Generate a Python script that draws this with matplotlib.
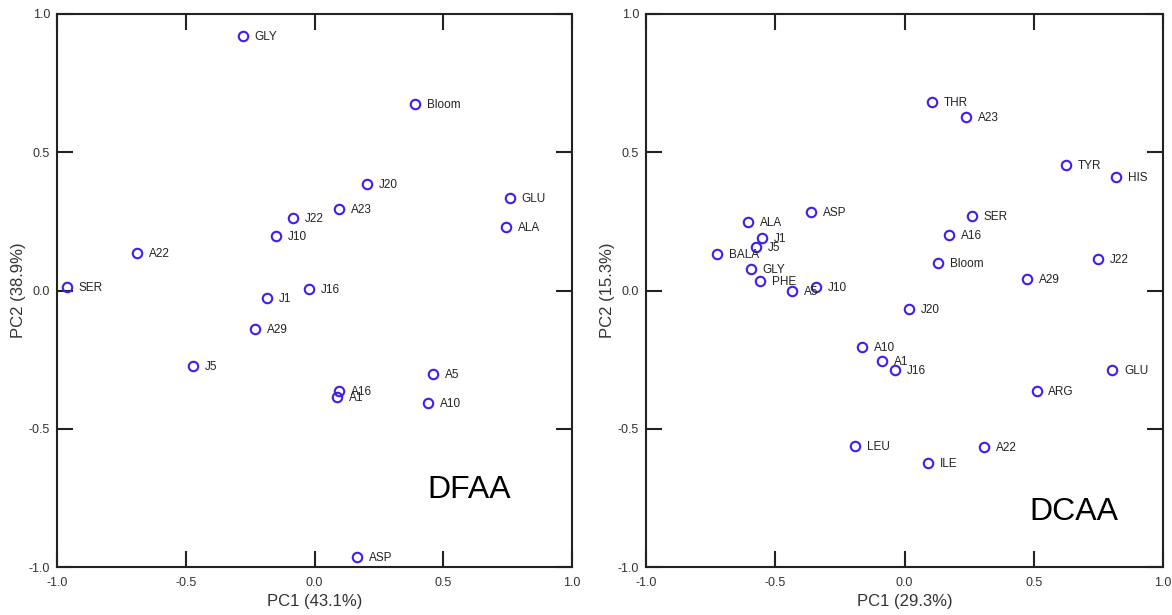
import matplotlib
matplotlib.use('Agg')
import matplotlib.pyplot as plt

plt.rcParams['font.family'] = ['Liberation Sans', 'DejaVu Sans']

# DFAA loadings / scores
dfaa_labels = ['GLY', 'Bloom', 'J20', 'GLU', 'ALA', 'J22', 'A23', 'J10', 'A22', 'SER',
               'J1', 'J16', 'A29', 'J5', 'A16', 'A1', 'A5', 'A10', 'ASP']
dfaa_pc1 = [-0.278, 0.390, 0.204, 0.759, 0.744, -0.083, 0.095, -0.150, -0.689, -0.961,
            -0.184, -0.021, -0.231, -0.472, 0.095, 0.087, 0.460, 0.441, 0.165]
dfaa_pc2 = [0.920, 0.675, 0.385, 0.335, 0.230, 0.262, 0.295, 0.197, 0.136, 0.013,
            -0.027, 0.005, -0.139, -0.273, -0.363, -0.385, -0.302, -0.407, -0.964]

# DCAA loadings / scores
dcaa_labels = ['THR', 'A23', 'TYR', 'HIS', 'SER', 'A16', 'Bloom', 'J22', 'A29', 'J20',
               'ASP', 'ALA', 'J1', 'J5', 'BALA', 'GLY', 'PHE', 'A5', 'J10', 'A10',
               'A1', 'J16', 'GLU', 'ARG', 'LEU', 'A22', 'ILE']
dcaa_pc1 = [0.106, 0.238, 0.625, 0.818, 0.261, 0.172, 0.130, 0.749, 0.474, 0.017,
            -0.362, -0.605, -0.551, -0.574, -0.725, -0.594, -0.559, -0.435, -0.342, -0.164,
            -0.087, -0.037, 0.803, 0.511, -0.191, 0.309, 0.090]
dcaa_pc2 = [0.682, 0.627, 0.454, 0.410, 0.269, 0.201, 0.100, 0.114, 0.042, -0.067,
            0.284, 0.248, 0.190, 0.157, 0.132, 0.078, 0.034, -0.002, 0.013, -0.204,
            -0.255, -0.288, -0.288, -0.362, -0.562, -0.567, -0.623]

ticks = [-1.0, -0.5, 0.0, 0.5, 1.0]
tick_labels = ['-1.0', '-0.5', '0.0', '0.5', '1.0']

mark_color = '#3c1ef2'
axis_color = '#222222'


def draw_panel(ax, labels, xs, ys, xlab, ylab, name, name_xy):
    ax.plot(xs, ys, 'o', ms=6.8, mfc='none', mec=mark_color, mew=1.5, clip_on=False, zorder=3)
    for lab, x, y in zip(labels, xs, ys):
        ax.annotate(lab, (x, y), xytext=(8.5, -0.8), textcoords='offset points',
                    ha='left', va='center', fontsize=8.5, color='#222222')
    ax.set_xlim(-1, 1)
    ax.set_ylim(-1, 1)
    ax.set_xticks(ticks)
    ax.set_yticks(ticks)
    ax.set_xticklabels(tick_labels)
    ax.set_yticklabels(tick_labels)
    ax.tick_params(direction='in', length=11.5, width=1.5, color=axis_color,
                   labelsize=9, labelcolor='#333333', top=True, right=True, pad=5)
    ax.tick_params(axis='x', pad=7)
    for s in ax.spines.values():
        s.set_linewidth(1.5)
        s.set_color(axis_color)
    ax.set_xlabel(xlab, fontsize=12, color='#333333', labelpad=4)
    ax.set_ylabel(ylab, fontsize=12, color='#333333', labelpad=2)
    ax.text(name_xy[0], name_xy[1], name, fontsize=23, ha='center', va='center', color='black')


fig = plt.figure(figsize=(11.72, 6.15), dpi=100)
ax1 = fig.add_axes([57 / 1172, 48 / 615, 515 / 1172, 553 / 615])
ax2 = fig.add_axes([646 / 1172, 48 / 615, 517 / 1172, 553 / 615])

draw_panel(ax1, dfaa_labels, dfaa_pc1, dfaa_pc2, 'PC1 (43.1%)', 'PC2 (38.9%)', 'DFAA', (0.60, -0.72))
draw_panel(ax2, dcaa_labels, dcaa_pc1, dcaa_pc2, 'PC1 (29.3%)', 'PC2 (15.3%)', 'DCAA', (0.656, -0.80))

fig.savefig('out.png', dpi=100)
